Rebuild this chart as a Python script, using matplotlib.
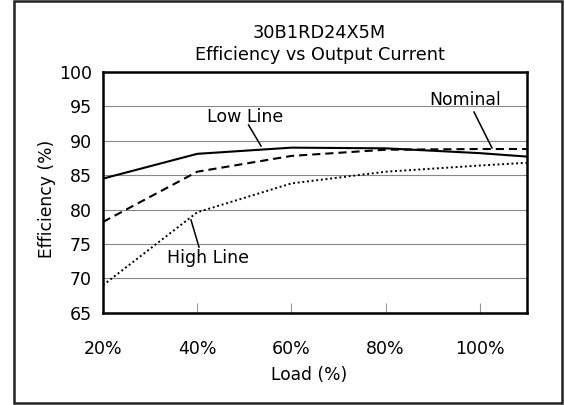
import numpy as np
import matplotlib
matplotlib.use("Agg")
import matplotlib.pyplot as plt
from matplotlib.patches import Rectangle

plt.rcParams['font.family'] = ['DejaVu Sans']

load = [20, 40, 60, 80, 100, 110]
low_line = [84.5, 88.1, 89.0, 88.9, 88.2, 87.7]
nominal = [78.2, 85.5, 87.8, 88.7, 88.8, 88.8]
high_line = [69.0, 79.6, 83.8, 85.5, 86.4, 86.8]

x_ticks = [20, 40, 60, 80, 100]
x_labels = ['20%', '40%', '60%', '80%', '100%']
y_ticks = [65, 70, 75, 80, 85, 90, 95, 100]

fig = plt.figure(figsize=(5.65, 4.05), dpi=100)
ax = fig.add_axes([103 / 565, 1 - 312.7 / 405, 424 / 565, 240.7 / 405])

ax.plot(load, low_line, color='black', lw=1.5, linestyle='-')
ax.plot(load, nominal, color='black', lw=1.5, linestyle=(0, (3.9, 2.4)))
ax.plot(load, high_line, color='black', lw=1.4, linestyle=(0, (1, 1.4)))

ax.set_xlim(20, 110)
ax.set_ylim(65, 100)
ax.set_yticks(y_ticks)
ax.set_yticklabels([str(y) for y in y_ticks], fontsize=12.5)
ax.set_xticks(x_ticks)
ax.set_xticklabels(x_labels, fontsize=12.5)
ax.tick_params(axis='y', length=0, pad=8)
ax.tick_params(axis='x', direction='in', length=7, color='#999999', pad=20)
ax.grid(axis='y', color='#888888', lw=0.8)
ax.set_axisbelow(True)
for s in ax.spines.values():
    s.set_linewidth(1.8)

ax.set_xlabel('Load (%)', fontsize=12.3, va='center')
ax.xaxis.set_label_coords(0.486, -0.259)
ax.set_ylabel('Efficiency (%)', fontsize=12.3, va='center')
ax.yaxis.set_label_coords(-0.133, 0.4745)

fig.text(319.5 / 565, 1 - 37.7 / 405, '30B1RD24X5M', ha='center', va='baseline', fontsize=12.8)
fig.text(319.5 / 565, 1 - 59.7 / 405, 'Efficiency vs Output Current', ha='center', va='baseline', fontsize=12.7)

# leader labels
ax.text(50.27, 93.4, 'Low Line', fontsize=12.5, ha='center', va='center')
ax.plot([50.9, 53.54], [92.29, 89.24], color='black', lw=1.1)
ax.text(96.95, 95.9, 'Nominal', fontsize=12.4, ha='center', va='center')
ax.plot([98.75, 102.57], [94.18, 88.95], color='black', lw=1.1)
ax.text(42.29, 72.95, 'High Line', fontsize=12.5, ha='center', va='center')
ax.plot([40.38, 38.68], [74.55, 78.48], color='black', lw=1.1)

fig.patches.append(Rectangle((14 / 565, 1 - 403 / 405), 548 / 565, 402 / 405,
                             transform=fig.transFigure, fill=False,
                             edgecolor='#222222', lw=1.8))

fig.savefig('out.png', dpi=100)
